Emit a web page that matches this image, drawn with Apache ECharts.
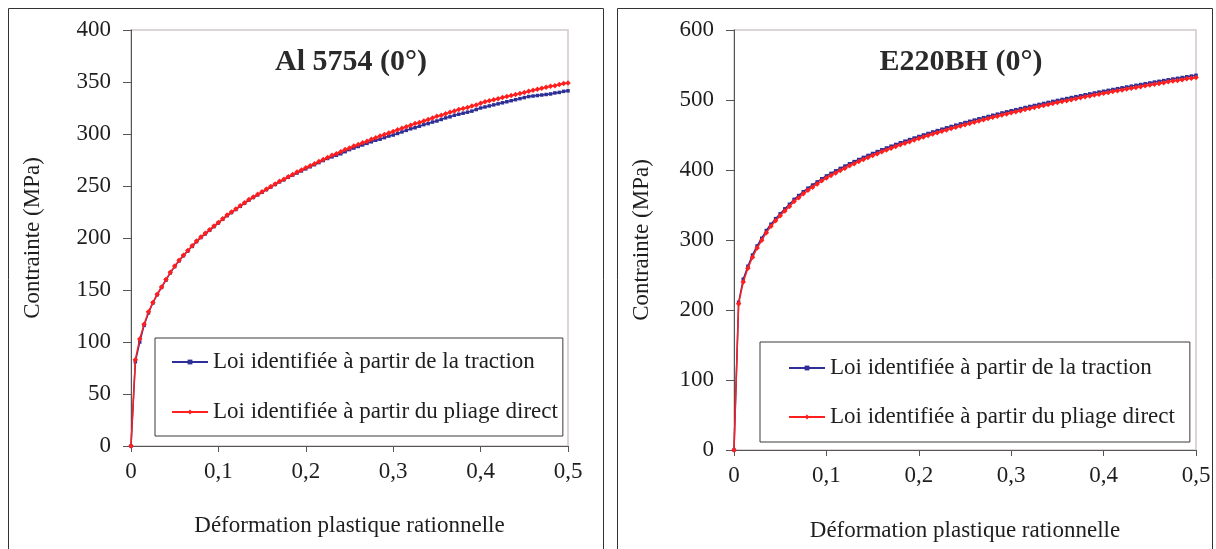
<!DOCTYPE html>
<html>
<head>
<meta charset="utf-8">
<script src="https://cdn.jsdelivr.net/npm/echarts@6/dist/echarts.min.js"></script>
<style>
  html, body { margin: 0; padding: 0; background: #fff; }
  #chart { width: 1216px; height: 549px; }
</style>
</head>
<body>
<div id="chart"></div>
<script>
// deformation plastique rationnelle (shared by both panels)
var strain = [0,
  0.005, 0.01, 0.015, 0.02, 0.025, 0.03, 0.035, 0.04, 0.045, 0.05,
  0.055, 0.06, 0.065, 0.07, 0.075, 0.08, 0.085, 0.09, 0.095, 0.1,
  0.105, 0.11, 0.115, 0.12, 0.125, 0.13, 0.135, 0.14, 0.145, 0.15,
  0.155, 0.16, 0.165, 0.17, 0.175, 0.18, 0.185, 0.19, 0.195, 0.2,
  0.205, 0.21, 0.215, 0.22, 0.225, 0.23, 0.235, 0.24, 0.245, 0.25,
  0.255, 0.26, 0.265, 0.27, 0.275, 0.28, 0.285, 0.29, 0.295, 0.3,
  0.305, 0.31, 0.315, 0.32, 0.325, 0.33, 0.335, 0.34, 0.345, 0.35,
  0.355, 0.36, 0.365, 0.37, 0.375, 0.38, 0.385, 0.39, 0.395, 0.4,
  0.405, 0.41, 0.415, 0.42, 0.425, 0.43, 0.435, 0.44, 0.445, 0.45,
  0.455, 0.46, 0.465, 0.47, 0.475, 0.48, 0.485, 0.49, 0.495, 0.5];

// Al 5754 (0°)
var alTraction = [0,
  81, 100, 116, 128, 137.5, 145.5, 152.5, 159.5, 166.5, 172.5,
  178, 183, 187.5, 192, 196.5, 200.5, 204, 207.5, 211, 214.5,
  218, 221.5, 224.5, 227.5, 230.5, 233.5, 236.5, 239, 241.5, 244,
  246.5, 249, 251.5, 254, 256, 258.5, 260.5, 262.5, 264.5, 266.5,
  268.5, 270.5, 272.5, 274.5, 276.5, 278, 279.5, 281, 283, 285,
  286.5, 288, 289.5, 291, 292.5, 294, 295, 296.5, 298, 299,
  300.5, 302, 303.5, 305, 306, 307.5, 309, 310, 311.5, 312.5,
  314, 315.5, 316.5, 318, 319, 320, 321, 322, 323.5, 325,
  326, 327, 328, 329, 330, 331, 332, 333, 334, 335,
  336, 336.5, 337, 337.5, 338, 338.5, 339.5, 340, 341, 341.5];
var alPliage = [0,
  83, 103, 117, 129, 138, 146, 153, 160, 167, 173,
  178.5, 183.5, 188, 192.5, 197, 201, 204.5, 208, 211.5, 215,
  218.5, 222, 225, 228, 231, 234, 237, 239.5, 242, 244.5,
  247, 249.5, 252, 254.5, 256.5, 259, 261, 263.5, 265.5, 267.5,
  269.5, 271.5, 273.5, 275.5, 277.5, 279.5, 281, 283, 285, 286.5,
  288.5, 290, 291.5, 293, 295, 296.5, 298, 299.5, 301, 302.5,
  304, 305.5, 307, 308.5, 310, 311, 312.5, 314, 315.5, 317,
  318, 319.5, 321, 322, 323.5, 324.5, 325.5, 327, 328, 329.5,
  331, 332, 333, 334, 335, 336, 337, 338, 339, 340,
  341, 342, 343, 344, 345, 346, 346.5, 347.5, 348.5, 349];

// E220BH (0°)
var eTraction = [0,
  211, 244, 262.5, 278.5, 291.5, 302.5, 313.5, 322.5, 330.5, 337.5,
  344.5, 351, 358, 363.5, 369, 374, 378.5, 383, 387.5, 391.5,
  395.2, 398.8, 402.3, 405.6, 408.9, 412, 415, 418, 420.8, 423.6,
  426.3, 428.9, 431.5, 434, 436.5, 438.9, 441.2, 443.5, 445.7, 447.9,
  450.1, 452.2, 454.3, 456.3, 458.3, 460.3, 462.2, 464.1, 465.9, 467.8,
  469.6, 471.3, 473.1, 474.8, 476.5, 478.2, 479.8, 481.5, 483.1, 484.7,
  486.2, 487.7, 489.3, 490.8, 492.2, 493.7, 495.1, 496.6, 498, 499.4,
  500.8, 502.1, 503.5, 504.8, 506.1, 507.5, 508.7, 510, 511.3, 512.5,
  513.8, 515, 516.2, 517.4, 518.6, 519.8, 521, 522.1, 523.3, 524.4,
  525.6, 526.7, 527.8, 528.9, 530, 531, 532.1, 533.2, 534.2, 535.3];
var ePliage = [0,
  209, 240, 259.5, 275.5, 288.5, 299.5, 310.5, 319.5, 327.5, 334.5,
  341.5, 348, 355, 360.5, 366, 371, 375.5, 380, 384.5, 388.5,
  392.2, 395.8, 399.3, 402.6, 405.9, 409, 412, 415, 417.8, 420.6,
  423.3, 425.9, 428.5, 431, 433.5, 435.9, 438.2, 440.5, 442.7, 444.9,
  447.1, 449.2, 451.3, 453.3, 455.3, 457.3, 459.2, 461.1, 462.9, 464.8,
  466.6, 468.3, 470.1, 471.8, 473.5, 475.2, 476.8, 478.5, 480.1, 481.7,
  483.2, 484.7, 486.3, 487.8, 489.2, 490.7, 492.1, 493.6, 495, 496.4,
  497.8, 499.1, 500.5, 501.8, 503.1, 504.5, 505.7, 507, 508.3, 509.5,
  510.8, 512, 513.2, 514.4, 515.6, 516.8, 518, 519.1, 520.3, 521.4,
  522.6, 523.7, 524.8, 525.9, 527, 528, 529.1, 530.2, 531.2, 532.3];

var titles = ['Al 5754 (0°)', 'E220BH (0°)'];
var seriesNames = ['Loi identifiée à partir de la traction', 'Loi identifiée à partir du pliage direct'];

var FONT = "'Liberation Serif', 'Times New Roman', serif";
var TXT = '#1e1e1e';
var BLUE = '#2d2f96';
var RED = '#ff1f1f';
var FS = 23;

function pairs(ys) {
  return strain.map(function (x, i) { return [x, ys[i]]; });
}

function xAxisOf(idx, gap) {
  return {
    gridIndex: idx, type: 'value', min: 0, max: 0.5, interval: 0.1,
    name: 'Déformation plastique rationnelle', nameLocation: 'middle', nameGap: gap,
    nameTextStyle: { fontFamily: FONT, fontSize: FS, color: TXT },
    axisLine: { show: true, onZero: false, lineStyle: { color: '#555', width: 1 } },
    axisTick: { show: true, length: 6, lineStyle: { color: '#555' } },
    axisLabel: {
      fontFamily: FONT, fontSize: FS, color: TXT, margin: 14,
      formatter: function (v) { return v === 0 ? '0' : v.toFixed(1).replace('.', ','); }
    },
    splitLine: { show: false }
  };
}

function yAxisOf(idx, max, step, gap) {
  return {
    gridIndex: idx, type: 'value', min: 0, max: max, interval: step,
    name: 'Contrainte (MPa)', nameLocation: 'middle', nameGap: gap,
    nameTextStyle: { fontFamily: FONT, fontSize: FS, color: TXT },
    axisLine: { show: true, lineStyle: { color: '#555', width: 1 } },
    axisTick: { show: true, length: 8, lineStyle: { color: '#555' } },
    axisLabel: { fontFamily: FONT, fontSize: FS, color: TXT, margin: 20 },
    splitLine: { show: false }
  };
}

function lineSeries(name, idx, ys, color, symbol, size, z) {
  return {
    name: name, type: 'line', xAxisIndex: idx, yAxisIndex: idx,
    data: pairs(ys), symbol: symbol, symbolSize: size, showAllSymbol: true,
    lineStyle: { color: color, width: 1.5 }, itemStyle: { color: color },
    z: z, animation: false
  };
}

function legendOf(left, top, padding, gap) {
  return {
    data: seriesNames, orient: 'vertical', left: left, top: top,
    padding: padding, itemGap: gap, itemWidth: 36, itemHeight: 6,
    backgroundColor: '#fff', borderColor: '#3a3a3a', borderWidth: 1,
    textStyle: { fontFamily: FONT, fontSize: FS, color: TXT, lineHeight: 26 },
    selectedMode: false
  };
}

var chart = echarts.init(document.getElementById('chart'));

chart.setOption({
  animation: false,
  backgroundColor: '#fff',
  graphic: [
    { type: 'rect', shape: { x: 8.5, y: 8.5, width: 595, height: 580 }, style: { fill: null, stroke: '#333', lineWidth: 1 }, silent: true },
    { type: 'rect', shape: { x: 617.5, y: 8.5, width: 595, height: 580 }, style: { fill: null, stroke: '#333', lineWidth: 1 }, silent: true }
  ],
  title: [
    { text: titles[0], left: 346, top: 42, textAlign: 'center', textStyle: { fontFamily: FONT, fontSize: 30, fontWeight: 'bold', color: '#2a2a2a' } },
    { text: titles[1], left: 956, top: 42, textAlign: 'center', textStyle: { fontFamily: FONT, fontSize: 30, fontWeight: 'bold', color: '#2a2a2a' } }
  ],
  grid: [
    { left: 131, top: 30, width: 437, height: 416, show: true, borderColor: '#d0c8c8', borderWidth: 1.5, backgroundColor: 'transparent' },
    { left: 734, top: 30, width: 462, height: 420, show: true, borderColor: '#d0c8c8', borderWidth: 1.5, backgroundColor: 'transparent' }
  ],
  xAxis: [xAxisOf(0, 68), xAxisOf(1, 69)],
  yAxis: [yAxisOf(0, 400, 50, 87), yAxisOf(1, 600, 100, 81)],
  legend: [
    legendOf(155, 338, [11, 5, 11, 16], 24),
    legendOf(760, 342, [13, 15, 12, 28], 23)
  ],
  series: [
    lineSeries(seriesNames[0], 0, alTraction, BLUE, 'rect', 3.5, 2),
    lineSeries(seriesNames[1], 0, alPliage, RED, 'diamond', 5.5, 3),
    lineSeries(seriesNames[0], 1, eTraction, BLUE, 'rect', 3.5, 2),
    lineSeries(seriesNames[1], 1, ePliage, RED, 'diamond', 5.5, 3)
  ]
});
</script>
</body>
</html>
